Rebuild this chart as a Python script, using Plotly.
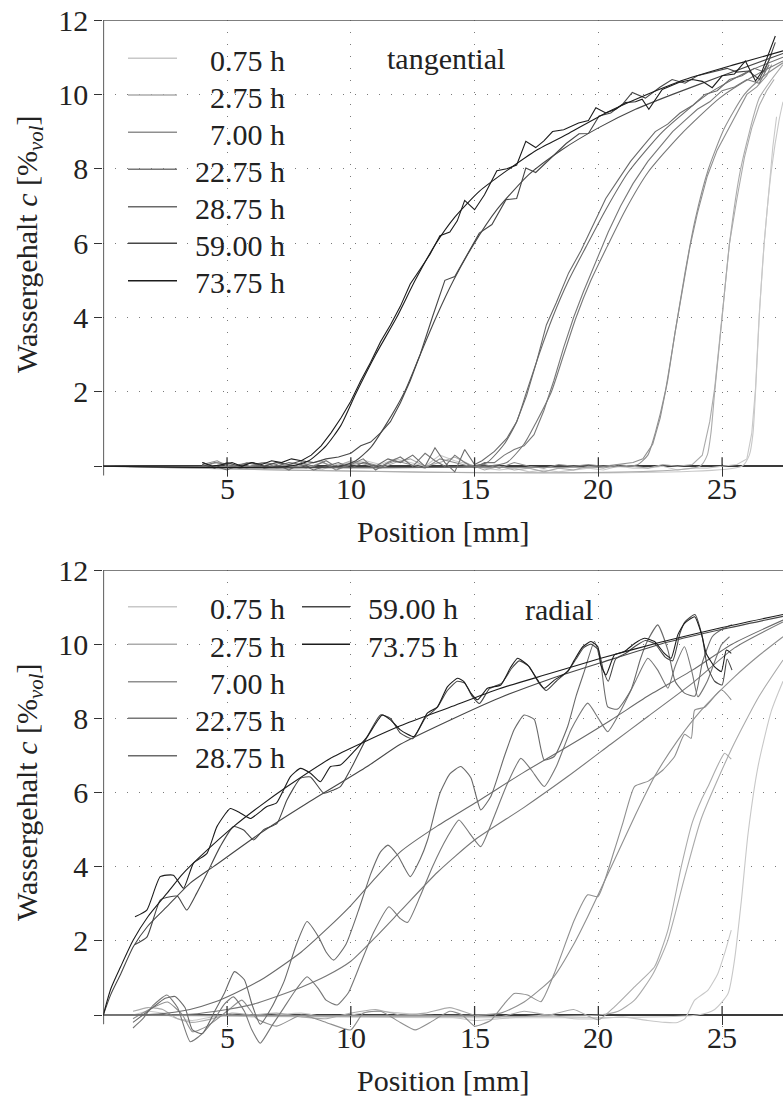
import plotly.graph_objects as go

W, H = 783, 1097
FONT = "Liberation Serif"

# ---------------- shared categories / styles ----------------
LABELS = ["0.75 h", "2.75 h", "7.00 h", "22.75 h", "28.75 h", "59.00 h", "73.75 h"]
COLORS = ["#c8c8c8", "#ababab", "#8f8f8f", "#777777", "#6a6a6a", "#474747", "#1c1c1c"]
X_TICKS = [5, 10, 15, 20, 25]
X_TICKTEXT = ["5", "10", "15", "20", "25"]
Y_TICKS = [0, 2, 4, 6, 8, 10, 12]
Y_TICKTEXT = ["", "2", "4", "6", "8", "10", "12"]
PANEL_NAMES = ["tangential", "radial"]
X_TITLE = "Position [mm]"
Y_TITLE = "Wassergehalt <i>c</i> [%<sub><i>vol</i></sub>]"

# ---------------- TOP panel (tangential): fitted profiles ----------------
T_FIT_000_X = [0, 25.8, 26.1, 26.25, 26.35, 26.5, 26.7, 27.0, 27.3, 27.46]
T_FIT_000_Y = [0, 0, 0.3, 0.9, 2.0, 4.0, 6.0, 8.0, 9.3, 9.8]
T_FIT_002_X = [0, 24.1, 24.4, 24.55, 24.7, 24.85, 25.0, 25.3, 25.75, 26.5, 27.0, 27.46]
T_FIT_002_Y = [0, 0, 0.3, 0.9, 2.0, 3.0, 4.0, 6.0, 8.0, 9.9, 10.4, 10.8]
T_FIT_007_X = [0, 21.2, 21.6, 22.0, 22.3, 22.7, 23.1, 23.5, 23.9, 24.45, 25.1, 25.9, 26.7, 27.46]
T_FIT_007_Y = [0, 0, 0.05, 0.3, 0.9, 2.0, 3.6, 5.2, 6.6, 8.0, 9.1, 10.0, 10.5, 10.85]
T_FIT_022_X = [0, 15.5, 16.3, 17.0, 17.5, 18.1, 18.6, 19.1, 19.7, 20.35, 21.1, 22.0, 23.3, 24.9, 26.3, 27.46]
T_FIT_022_Y = [0, 0, 0.1, 0.6, 1.2, 2.0, 3.0, 4.0, 5.0, 5.9, 6.9, 7.9, 8.9, 9.9, 10.5, 10.9]
T_FIT_028_X = [0, 14.8, 15.5, 16.2, 16.7, 17.1, 17.6, 18.15, 18.8, 19.5, 20.3, 21.2, 22.6, 24.4, 26.0, 27.46]
T_FIT_028_Y = [0, 0, 0.1, 0.6, 1.2, 2.0, 3.0, 4.0, 5.0, 5.9, 6.9, 7.9, 9.0, 10.0, 10.6, 11.0]
T_FIT_059_X = [0, 9.5, 10.2, 10.8, 11.4, 12.17, 12.8, 13.44, 14.15, 14.9, 15.9, 17.2, 18.5, 20.0, 21.5, 23.0, 25.0, 27.46]
T_FIT_059_Y = [0, 0, 0.15, 0.5, 1.1, 2.0, 3.0, 4.0, 5.0, 5.9, 6.9, 7.85, 8.5, 9.1, 9.6, 10.0, 10.5, 11.1]
T_FIT_073_X = [0, 7.5, 8.3, 9.0, 9.6, 10.2, 11.0, 11.85, 12.6, 13.4, 14.2, 15.2, 16.3, 17.5, 18.8, 20.3, 21.8, 23.5, 25.5, 27.46]
T_FIT_073_Y = [0, 0, 0.15, 0.55, 1.1, 1.95, 3.0, 4.0, 5.0, 5.95, 6.7, 7.4, 7.95, 8.5, 8.95, 9.5, 9.95, 10.4, 10.8, 11.17]

# ---------------- TOP panel: measured profiles ----------------
T_MEAS_000_X = [4.0, 4.6, 5.2, 5.8, 6.4, 7.0, 7.6, 8.2, 8.8, 9.4, 10.0, 10.6, 11.2, 11.8, 12.4, 13.0, 13.6, 14.2, 14.8, 15.4,
                16.0, 16.6, 17.2, 17.8, 18.4, 19.0, 19.6, 20.2, 20.8, 21.4, 22.0, 22.6, 23.2, 23.8, 24.4, 25.0, 25.6, 26.0,
                26.2, 26.35, 26.5, 26.7, 26.9, 27.05, 27.2]
T_MEAS_000_Y = [0.1, -0.05, 0.05, 0.0, 0.1, -0.05, 0.0, 0.05, -0.1, 0.05, 0.1, 0.15, 0.05, 0.2, 0.1, 0.0, 0.3, 0.15, 0.05, -0.05,
                -0.1, -0.05, -0.15, -0.1, -0.15, -0.1, -0.05, -0.1, 0.0, -0.05, -0.05, 0.0, -0.1, -0.05, -0.05, 0.0, 0.05, 0.2,
                0.9, 2.1, 4.1, 6.0, 7.6, 8.6, 9.4]
T_MEAS_002_X = [4.0, 4.6, 5.2, 5.8, 6.4, 7.0, 7.6, 8.2, 8.8, 9.4, 10.0, 10.6, 11.2, 11.8, 12.4, 13.0, 13.6, 14.2, 14.8, 15.4,
                16.0, 16.6, 17.2, 17.8, 18.4, 19.0, 19.6, 20.2, 20.8, 21.4, 22.0, 22.6, 23.2, 23.8, 24.2, 24.5, 24.7, 24.9,
                25.1, 25.3, 25.6, 25.9, 26.2, 26.5, 26.8, 27.1]
T_MEAS_002_Y = [0.0, 0.1, 0.05, -0.05, 0.1, 0.0, 0.05, -0.05, 0.1, 0.0, 0.15, 0.05, -0.05, 0.1, 0.2, 0.0, 0.1, 0.25, 0.05, -0.1,
                0.0, -0.1, -0.05, -0.15, -0.05, -0.1, 0.0, -0.05, 0.05, 0.0, -0.05, 0.05, 0.0, 0.05, 0.3, 1.2, 2.1, 3.4,
                4.8, 6.0, 7.2, 8.3, 9.1, 9.7, 10.1, 10.4]
T_MEAS_007_X = [4.0, 4.6, 5.2, 5.8, 6.4, 7.0, 7.6, 8.2, 8.8, 9.4, 10.0, 10.6, 11.2, 11.8, 12.4, 13.0, 13.6, 14.2, 14.8, 15.4,
                16.0, 16.6, 17.2, 17.8, 18.4, 19.0, 19.6, 20.2, 20.8, 21.4, 21.8, 22.2, 22.5, 22.8, 23.1, 23.4, 23.7, 24.0,
                24.4, 24.8, 25.2, 25.6, 26.0, 26.4, 26.8, 27.0]
T_MEAS_007_Y = [0.05, 0.15, -0.05, 0.1, 0.0, 0.1, -0.05, 0.05, 0.15, -0.1, 0.05, 0.1, 0.0, 0.15, 0.05, -0.05, 0.2, 0.1, 0.0, 0.05,
                -0.05, 0.1, 0.0, -0.05, 0.05, 0.0, 0.05, 0.0, 0.05, 0.1, 0.2, 0.6, 1.3, 2.3, 3.6, 4.8, 5.9, 6.8,
                7.8, 8.5, 9.0, 9.5, 10.0, 10.2, 10.5, 10.8]
T_MEAS_022_X = [4.0, 4.5, 5.0, 5.5, 6.0, 6.5, 7.0, 7.5, 8.0, 8.5, 9.0, 9.5, 10.0, 10.5, 11.0, 11.5, 12.0, 12.5, 13.0, 13.4,
                13.8, 14.2, 14.6, 15.0, 15.4, 15.8, 16.2, 16.6, 17.0, 17.4, 17.8, 18.2, 18.6, 19.0, 19.4, 19.9, 20.4, 20.9,
                21.4, 22.0, 22.5, 23.0, 23.5, 24.0, 24.5, 25.0, 25.5, 26.0, 26.5, 26.9]
T_MEAS_022_Y = [0.0, 0.1, 0.05, -0.05, 0.0, 0.1, 0.05, -0.1, 0.1, 0.0, 0.15, -0.05, 0.05, 0.2, -0.1, 0.1, 0.25, 0.0, 0.35, 0.15,
                0.0, 0.3, 0.1, -0.05, 0.1, 0.1, 0.3, 0.45, 0.55, 0.85, 1.5, 2.3, 3.2, 4.0, 4.7, 5.5, 6.3, 7.0,
                7.6, 8.2, 8.6, 9.0, 9.3, 9.6, 9.8, 10.1, 10.2, 10.4, 10.3, 10.8]
T_MEAS_028_X = [4.0, 4.5, 5.0, 5.5, 6.0, 6.5, 7.0, 7.5, 8.0, 8.5, 9.0, 9.5, 10.0, 10.5, 11.0, 11.5, 12.0, 12.5, 13.0, 13.4,
                13.8, 14.2, 14.6, 15.0, 15.3, 15.8, 16.3, 16.7, 17.1, 17.5, 17.9, 18.3, 18.8, 19.3, 19.8, 20.3, 20.8, 21.3,
                21.8, 22.3, 22.8, 23.3, 23.8, 24.3, 24.8, 25.3, 25.8, 26.3, 26.7, 27.0]
T_MEAS_028_Y = [0.1, 0.0, -0.1, 0.05, 0.1, -0.05, 0.0, 0.1, 0.05, -0.1, 0.0, 0.1, -0.05, 0.1, 0.0, 0.2, 0.1, 0.3, 0.0, 0.5,
                0.1, -0.15, 0.45, 0.05, 0.15, 0.4, 0.75, 1.2, 1.9, 2.8, 3.8, 4.4, 5.2, 5.8, 6.5, 7.2, 7.7, 8.2,
                8.6, 9.0, 9.2, 9.5, 9.7, 10.0, 10.1, 10.4, 10.5, 10.7, 10.6, 11.1]
T_MEAS_059_X = [4.0, 4.5, 5.0, 5.5, 6.0, 6.5, 7.0, 7.5, 8.0, 8.5, 9.0, 9.5, 10.0, 10.4, 10.8, 11.2, 11.6, 12.0, 12.4, 12.8,
                13.3, 13.8, 14.2, 14.65, 15.19, 15.7, 16.27, 16.7, 17.07, 17.47, 18.15, 18.7, 19.22, 19.6, 20.03, 20.5,
                21.0, 21.37, 21.9, 22.5, 22.98, 23.5, 24.0, 24.6, 25.2, 25.6, 26.07, 26.5, 26.88, 27.15]
T_MEAS_059_Y = [0.05, -0.05, 0.1, 0.0, 0.1, 0.0, 0.1, 0.05, 0.15, 0.1, 0.2, 0.25, 0.35, 0.55, 0.65, 0.9, 1.2, 1.7, 2.3, 3.0,
                4.02, 5.0, 5.1, 5.64, 6.27, 6.5, 7.17, 7.2, 8.02, 7.9, 8.34, 8.68, 8.94, 8.95, 9.42, 9.5,
                9.75, 10.05, 9.9, 10.2, 10.4, 10.3, 10.5, 10.6, 10.7, 10.6, 10.63, 10.4, 10.9, 11.4]
T_MEAS_073_X = [4.0, 4.4, 4.8, 5.2, 5.6, 6.0, 6.4, 6.8, 7.2, 7.6, 8.0, 8.4, 8.8, 9.2, 9.6, 10.0, 10.4, 10.8, 11.2, 11.6,
                12.0, 12.4, 12.8, 13.2, 13.6, 14.0, 14.3, 14.6, 15.0, 15.4, 15.9, 16.3, 16.7, 17.07, 17.47, 17.8, 18.15,
                18.6, 19.2, 19.6, 19.9, 20.3, 20.7, 21.1, 21.5, 21.77, 22.04, 22.58, 23.25, 23.8, 24.2, 24.6, 25.0, 25.5,
                25.94, 26.35, 26.6, 26.88, 27.15]
T_MEAS_073_Y = [0.1, 0.0, 0.05, 0.1, 0.0, 0.1, 0.05, 0.15, 0.1, 0.2, 0.15, 0.3, 0.55, 0.9, 1.3, 1.75, 2.3, 2.8, 3.35, 3.8,
                4.3, 4.9, 5.3, 5.7, 6.2, 6.3, 6.6, 7.15, 6.9, 7.3, 7.95, 8.0, 8.1, 8.74, 8.57, 8.75, 9.0,
                9.05, 9.23, 9.3, 9.64, 9.5, 9.6, 9.78, 9.8, 9.87, 9.6, 10.13, 10.32, 10.4, 10.35, 10.18, 10.5, 10.55,
                10.9, 10.36, 10.6, 11.12, 11.57]

# ---------------- BOTTOM panel (radial): fitted profiles ----------------
B_FIT_000_X = [0, 24.0, 24.7, 25.24, 25.5, 25.78, 26.05, 26.45, 26.99, 27.46]
B_FIT_000_Y = [0, 0, 0.15, 0.58, 1.48, 3.1, 4.9, 6.7, 8.2, 9.0]
B_FIT_002_X = [0, 20.0, 20.8, 21.46, 22.2, 22.8, 23.48, 24.16, 25.4, 26.5, 27.46]
B_FIT_002_Y = [0, 0, 0.1, 0.4, 1.1, 2.0, 3.7, 5.3, 7.2, 8.6, 9.57]
B_FIT_007_X = [0, 15.0, 16.05, 17.0, 18.2, 19.0, 19.57, 20.65, 21.5, 22.27, 23.2, 24.16, 25.5, 26.5, 27.46]
B_FIT_007_Y = [0, 0, 0.05, 0.35, 1.03, 1.9, 2.65, 4.18, 5.4, 6.43, 7.4, 8.22, 9.12, 9.7, 10.2]
B_FIT_022_X = [0, 2.0, 3.5, 5.0, 6.0, 7.0, 8.0, 9.0, 10.0, 11.0, 12.0, 13.5, 15.0, 17.0, 18.76, 20.5, 22.0, 23.8, 25.5, 27.46]
B_FIT_022_Y = [0, 0, 0.02, 0.15, 0.28, 0.5, 0.75, 1.05, 1.45, 2.1, 2.8, 3.85, 4.72, 5.6, 6.43, 7.3, 8.05, 8.95, 9.9, 10.6]
B_FIT_028_X = [0, 1.0, 2.3, 3.5, 4.5, 5.3, 6.5, 8.0, 9.0, 10.0, 11.0, 12.0, 13.5, 15.0, 17.0, 18.76, 20.5, 22.0, 23.8, 25.4, 27.46]
B_FIT_028_Y = [0, 0, 0.03, 0.15, 0.35, 0.58, 1.0, 1.7, 2.3, 2.95, 3.7, 4.4, 5.1, 5.71, 6.55, 7.24, 7.95, 8.6, 9.3, 10.0, 10.65]
B_FIT_059_X = [0, 0.3, 0.7, 1.21, 1.8, 2.57, 3.5, 4.45, 6.34, 8.23, 10.66, 12.0, 14.0, 16.0, 18.0, 20.1, 22.5, 25.0, 27.46]
B_FIT_059_Y = [0, 0.55, 1.1, 1.84, 2.4, 2.92, 3.55, 4.0, 4.9, 5.71, 6.7, 7.3, 7.95, 8.55, 9.05, 9.5, 10.0, 10.4, 10.75]
B_FIT_073_X = [0, 0.3, 0.7, 1.21, 1.8, 2.57, 3.2, 3.91, 5.26, 6.3, 7.43, 9.31, 12.0, 14.0, 16.0, 18.0, 20.1, 22.5, 25.0, 27.46]
B_FIT_073_Y = [0, 0.7, 1.3, 2.02, 2.65, 3.28, 3.8, 4.27, 5.08, 5.62, 6.16, 6.97, 7.8, 8.3, 8.8, 9.2, 9.62, 10.05, 10.45, 10.8]

# ---------------- BOTTOM panel: measured profiles ----------------
B_MEAS_000_X = [1.2, 1.8, 2.4, 3.0, 3.6, 4.4, 5.2, 6.0, 7.0, 8.0, 9.0, 10.0, 11.0, 12.0, 13.0, 14.0, 15.0, 16.0, 17.0, 18.0,
                19.0, 20.0, 21.0, 22.0, 22.7, 23.2, 23.5, 23.89, 24.43, 24.83, 25.1, 25.37]
B_MEAS_000_Y = [0.0, 0.1, 0.05, -0.1, -0.15, -0.05, 0.0, -0.05, 0.0, 0.05, -0.05, 0.0, 0.1, 0.05, 0.0, -0.05, -0.15, -0.1,
                -0.05, 0.0, -0.1, -0.1, -0.05, -0.15, -0.2, -0.2, -0.1, 0.4, 0.67, 1.12, 1.66, 2.29]
B_MEAS_002_X = [1.2, 1.8, 2.4, 3.0, 3.6, 4.4, 5.2, 6.0, 7.0, 8.0, 9.0, 10.0, 11.0, 12.0, 13.0, 14.0, 15.0, 16.0, 17.0, 18.0,
                19.0, 20.0, 20.65, 21.46, 22.27, 22.81, 23.35, 23.8, 24.16, 24.43, 24.8, 25.1, 25.37]
B_MEAS_002_Y = [0.1, 0.2, 0.15, -0.1, -0.2, -0.1, 0.05, 0.0, 0.05, -0.05, -0.1, 0.05, 0.15, 0.0, 0.05, 0.2, 0.0, -0.05, 0.1,
                0.0, 0.15, -0.13, 0.22, 0.76, 1.3, 2.29, 4.0, 5.2, 5.8, 6.16, 6.7, 7.06, 6.9]
B_MEAS_007_X = [1.2, 2.0, 2.6, 3.2, 3.6, 4.2, 5.0, 5.6, 6.2, 7.0, 8.0, 9.0, 10.0, 10.5, 11.2, 12.0, 12.6, 13.2, 14.0, 14.5,
                15.0, 15.3, 15.65, 16.2, 16.6, 17.14, 17.68, 18.22, 19.03, 19.57, 19.98, 20.65, 21.0, 21.46, 22.0, 22.27,
                22.6, 23.08, 23.48, 23.75, 23.89, 24.3, 24.97, 25.37]
B_MEAS_007_Y = [-0.1, 0.2, 0.35, 0.0, -0.45, -0.3, 0.1, 0.4, -0.1, -0.3, 0.0, -0.2, -0.4, 0.05, 0.1, -0.2, -0.4, -0.2, 0.1,
                0.0, -0.3, -0.25, -0.15, 0.3, 0.58, 0.54, 0.36, 1.12, 2.56, 3.24, 3.19, 4.45, 5.2, 6.16, 6.3, 6.43, 6.6,
                6.97, 7.57, 7.46, 8.22, 8.3, 8.77, 8.5]
B_MEAS_022_X = [1.2, 1.6, 2.0, 2.57, 3.0, 3.51, 4.0, 4.5, 4.9, 5.26, 5.7, 6.0, 6.34, 6.8, 7.3, 7.8, 8.23, 8.7, 9.0, 9.45,
                9.9, 10.4, 10.9, 11.54, 12.0, 12.3, 12.8, 13.3, 13.9, 14.37, 14.8, 15.25, 15.7, 16.3, 16.87, 17.3, 17.81,
                18.3, 18.9, 19.57, 20.0, 20.38, 20.9, 21.5, 22.0, 22.4, 22.81, 23.1, 23.48, 23.8, 24.02, 24.4, 24.97, 25.3]
B_MEAS_022_Y = [-0.35, -0.1, 0.25, 0.54, 0.2, -0.72, -0.5, -0.1, 0.3, 0.49, 0.1, -0.4, -0.76, -0.3, 0.2, 0.7, 1.03, 0.7, 0.4,
                0.27, 0.6, 1.4, 2.2, 2.92, 2.6, 2.5, 3.2, 4.0, 4.8, 5.26, 4.9, 4.54, 5.2, 6.2, 6.92, 6.6, 6.16, 6.7, 7.7,
                8.41, 8.0, 7.64, 8.2, 9.0, 9.62, 9.3, 8.81, 9.4, 9.93, 9.2, 8.58, 9.0, 9.98, 10.2]
B_MEAS_028_X = [1.2, 1.6, 2.0, 2.5, 2.9, 3.3, 3.6, 4.0, 4.5, 4.9, 5.3, 5.7, 6.0, 6.34, 6.8, 7.3, 7.8, 8.23, 8.7, 9.0,
                9.31, 9.8, 10.3, 10.8, 11.2, 11.5, 11.9, 12.4, 12.8, 13.1, 13.6, 14.0, 14.44, 14.85, 15.25, 15.66, 16.2,
                16.6, 17.0, 17.41, 17.81, 18.22, 18.76, 19.1, 19.43, 19.84, 20.1, 20.38, 20.78, 21.32, 21.7, 22.0, 22.4,
                22.81, 23.1, 23.48, 23.9, 24.2, 24.6, 25.0, 25.4]
B_MEAS_028_Y = [-0.2, 0.0, 0.2, 0.45, 0.5, 0.2, -0.4, -0.5, 0.1, 0.6, 1.17, 0.95, 0.3, -0.25, 0.2, 0.9, 1.9, 2.52, 2.1, 1.7,
                1.48, 1.9, 2.8, 3.8, 4.4, 4.58, 4.3, 3.73, 4.2, 4.72, 5.98, 6.5, 6.7, 6.4, 5.53, 5.9, 6.97, 7.7, 8.09,
                7.97, 6.88, 6.97, 7.78, 8.6, 9.26, 10.07, 9.48, 8.31, 8.25, 8.77, 9.6, 10.11, 10.52, 9.84, 9.0, 8.68,
                8.6, 9.5, 10.2, 10.4, 10.52]
B_MEAS_059_X = [1.28, 1.76, 2.3, 2.7, 3.0, 3.37, 3.77, 4.19, 4.72, 5.26, 5.67, 6.07, 6.48, 7.02, 7.42, 7.96, 8.37, 8.91, 9.31,
                9.58, 10.12, 10.66, 11.2, 11.6, 12.0, 12.5, 13.0, 13.5, 13.9, 14.3, 14.6, 14.9, 15.2, 15.6, 16.1, 16.5,
                16.8, 17.2, 17.6, 17.9, 18.3, 18.8, 19.1, 19.4, 19.7, 20.0, 20.2, 20.4, 20.7, 21.1, 21.5, 21.9, 22.3,
                22.7, 23.0, 23.3, 23.5, 23.9, 24.2, 24.4, 24.7, 25.0, 25.2, 25.4]
B_MEAS_059_Y = [1.9, 2.1, 3.1, 3.19, 3.2, 2.83, 3.28, 3.82, 4.54, 5.08, 4.99, 4.72, 5.0, 5.17, 5.8, 6.38, 6.42, 5.98, 6.07,
                6.16, 6.79, 7.5, 8.09, 8.0, 7.6, 7.45, 8.0, 8.3, 8.75, 9.0, 8.95, 8.6, 8.4, 8.8, 8.95, 9.35, 9.55, 9.4,
                8.95, 8.75, 9.0, 9.3, 9.6, 9.9, 10.0, 9.85, 9.3, 9.0, 9.6, 9.75, 9.95, 10.1, 10.0, 9.65, 9.55, 10.3,
                10.6, 10.8, 10.2, 9.4, 9.0, 8.9, 9.6, 9.3]
B_MEAS_073_X = [1.28, 1.76, 2.3, 2.83, 3.24, 3.64, 4.19, 4.59, 5.13, 5.53, 5.94, 6.61, 7.0, 7.56, 7.96, 8.37, 8.77, 9.18,
                9.58, 10.12, 10.66, 11.27, 11.6, 12.0, 12.55, 13.09, 13.5, 13.9, 14.31, 14.57, 14.85, 15.12, 15.52, 16.06,
                16.47, 16.74, 17.14, 17.55, 17.81, 18.22, 18.76, 19.03, 19.37, 19.7, 19.98, 20.1, 20.31, 20.65, 21.05,
                21.46, 21.86, 22.27, 22.67, 22.94, 23.21, 23.48, 23.89, 24.16, 24.36, 24.7, 24.97, 25.17, 25.37]
B_MEAS_073_Y = [2.65, 2.83, 3.73, 3.77, 3.42, 4.09, 4.36, 5.08, 5.57, 5.45, 5.30, 5.62, 5.72, 6.43, 6.65, 6.52, 6.29, 6.7,
                6.74, 7.1, 7.5, 8.09, 7.96, 7.69, 7.51, 8.14, 8.31, 8.85, 9.08, 8.99, 8.68, 8.5, 8.81, 8.9, 9.39, 9.62,
                9.44, 9.03, 8.81, 9.03, 9.26, 9.57, 9.93, 10.07, 9.93, 9.44, 9.17, 9.71, 9.8, 10.02, 10.16, 10.07, 9.75,
                9.62, 10.25, 10.56, 10.74, 10.29, 9.75, 9.39, 9.26, 9.84, 9.75]

T_FITS = [(T_FIT_000_X, T_FIT_000_Y), (T_FIT_002_X, T_FIT_002_Y), (T_FIT_007_X, T_FIT_007_Y), (T_FIT_022_X, T_FIT_022_Y),
          (T_FIT_028_X, T_FIT_028_Y), (T_FIT_059_X, T_FIT_059_Y), (T_FIT_073_X, T_FIT_073_Y)]
T_MEAS = [(T_MEAS_000_X, T_MEAS_000_Y), (T_MEAS_002_X, T_MEAS_002_Y), (T_MEAS_007_X, T_MEAS_007_Y),
          (T_MEAS_022_X, T_MEAS_022_Y), (T_MEAS_028_X, T_MEAS_028_Y), (T_MEAS_059_X, T_MEAS_059_Y),
          (T_MEAS_073_X, T_MEAS_073_Y)]
B_FITS = [(B_FIT_000_X, B_FIT_000_Y), (B_FIT_002_X, B_FIT_002_Y), (B_FIT_007_X, B_FIT_007_Y), (B_FIT_022_X, B_FIT_022_Y),
          (B_FIT_028_X, B_FIT_028_Y), (B_FIT_059_X, B_FIT_059_Y), (B_FIT_073_X, B_FIT_073_Y)]
B_MEAS = [(B_MEAS_000_X, B_MEAS_000_Y), (B_MEAS_002_X, B_MEAS_002_Y), (B_MEAS_007_X, B_MEAS_007_Y),
          (B_MEAS_022_X, B_MEAS_022_Y), (B_MEAS_028_X, B_MEAS_028_Y), (B_MEAS_059_X, B_MEAS_059_Y),
          (B_MEAS_073_X, B_MEAS_073_Y)]

# ---------------- geometry (pixels) ----------------
X_LEFT_PX = 103.3
X_MAX = 27.46
PANELS = [
    dict(top_px=20.0, zero_px=466.3, ymin=-0.5, xa="x", ya="y", fits=T_FITS, meas=T_MEAS, meas_smooth=0.0,
         ytitle_px=244, xtitle_px=531, name_px=(385, 57),
         legend=[(128, 177, 287, r) for r in [58.3, 95.0, 132.3, 169.3, 206.7, 243.3, 280.7]]),
    dict(top_px=570.0, zero_px=1015.0, ymin=-0.9, xa="x2", ya="y2", fits=B_FITS, meas=B_MEAS, meas_smooth=0.5,
         ytitle_px=792, xtitle_px=1080, name_px=(523, 608),
         legend=[(128, 177, 287, r) for r in [606.7, 644.3, 681.7, 718.3, 755.7]]
                + [(302, 350, 460, r) for r in [606.7, 644.3]]),
]

AX_COLOR = "#333333"
GRID_COLOR = "#7a7a7a"
TXT = dict(size=30, family=FONT, color="#222222")
fig = go.Figure()
shapes, annotations = [], []
layout = dict(width=W, height=H, margin=dict(l=0, r=0, t=0, b=0, pad=0, autoexpand=False),
              paper_bgcolor="white", plot_bgcolor="white", showlegend=False, font=TXT)

for p_i, P in enumerate(PANELS):
    ppu = (P["zero_px"] - P["top_px"]) / 12.0
    bottom_px = P["zero_px"] - P["ymin"] * ppu
    ydom = [1 - bottom_px / H, 1 - P["top_px"] / H]
    xkey = "xaxis" if p_i == 0 else "xaxis2"
    ykey = "yaxis" if p_i == 0 else "yaxis2"
    layout[xkey] = dict(domain=[X_LEFT_PX / W, 1], range=[0, X_MAX], anchor="free", automargin=False,
                        position=1 - P["zero_px"] / H, tickvals=X_TICKS, showticklabels=False,
                        ticks="outside", ticklen=9, tickwidth=1.3, tickcolor=AX_COLOR,
                        showline=False, zeroline=False, showgrid=True, gridcolor=GRID_COLOR,
                        gridwidth=1, griddash="1px,11px")
    layout[ykey] = dict(domain=ydom, range=[P["ymin"], 12], anchor=P["xa"], automargin=False,
                        tickvals=Y_TICKS, ticktext=Y_TICKTEXT, ticks="outside", ticklen=8, tickwidth=1.3,
                        tickcolor=AX_COLOR, showline=False, zeroline=True, zerolinecolor="#3a3a3a",
                        zerolinewidth=1.6, showgrid=True, gridcolor=GRID_COLOR, gridwidth=1,
                        griddash="1px,11px", tickfont=TXT)

    for (fx, fy), (mx, my), col in zip(P["fits"], P["meas"], COLORS):
        fig.add_trace(go.Scatter(x=fx, y=fy, mode="lines", line=dict(color=col, width=1.1, shape="spline", smoothing=0.6),
                                 xaxis=P["xa"], yaxis=P["ya"], hoverinfo="skip"))
        if P["meas_smooth"] > 0:
            mline = dict(color=col, width=1.1, shape="spline", smoothing=P["meas_smooth"])
        else:
            mline = dict(color=col, width=1.1)
        fig.add_trace(go.Scatter(x=mx, y=my, mode="lines", line=mline,
                                 xaxis=P["xa"], yaxis=P["ya"], hoverinfo="skip"))

    # x tick labels just below the y = 0 axis line
    for t, lab in zip(X_TICKS, X_TICKTEXT):
        annotations.append(dict(text=lab, x=t, y=0, xref=P["xa"], yref=P["ya"], xanchor="center",
                                yanchor="middle", yshift=-22, showarrow=False, font=TXT))

    # left axis line and top frame line
    shapes.append(dict(type="line", xref=P["xa"], yref=P["ya"], x0=0, x1=0, y0=-0.25, y1=12,
                       line=dict(color=AX_COLOR, width=1.6), layer="above"))
    shapes.append(dict(type="line", xref=P["xa"], yref=P["ya"], x0=0, x1=X_MAX, y0=12, y1=12,
                       line=dict(color="#555555", width=1.5), layer="above"))
    # upward half of crossing x ticks
    for t in X_TICKS:
        shapes.append(dict(type="line", xref=P["xa"], yref=P["ya"], x0=t, x1=t, ysizemode="pixel",
                           yanchor=0, y0=0, y1=9, line=dict(color=AX_COLOR, width=1.3), layer="above"))

    # legend (manual, right-aligned labels)
    for (lx0, lx1, tx, ry), lab, col in zip(P["legend"], LABELS, COLORS):
        shapes.append(dict(type="line", xref="paper", yref="paper", x0=lx0 / W, x1=lx1 / W,
                           y0=1 - ry / H, y1=1 - ry / H, line=dict(color=col, width=1.4)))
        annotations.append(dict(text=lab, x=tx / W, y=1 - (ry + 2) / H, xref="paper", yref="paper",
                                xanchor="right", yanchor="middle", showarrow=False, font=TXT))
    annotations.append(dict(text=PANEL_NAMES[p_i], x=P["name_px"][0] / W, y=1 - (P["name_px"][1] + 2) / H,
                            xref="paper", yref="paper", xanchor="left", yanchor="middle", showarrow=False,
                            font=TXT))
    # axis titles
    annotations.append(dict(text=Y_TITLE, x=29 / W, y=1 - P["ytitle_px"] / H, xref="paper", yref="paper",
                            xanchor="center", yanchor="middle", textangle=-90, showarrow=False, font=TXT))
    annotations.append(dict(text=X_TITLE, x=(X_LEFT_PX + W) / 2 / W, y=1 - P["xtitle_px"] / H, xref="paper",
                            yref="paper", xanchor="center", yanchor="middle", showarrow=False, font=TXT))

layout["shapes"] = shapes
layout["annotations"] = annotations
fig.update_layout(**layout)
fig.write_html("out.html")
